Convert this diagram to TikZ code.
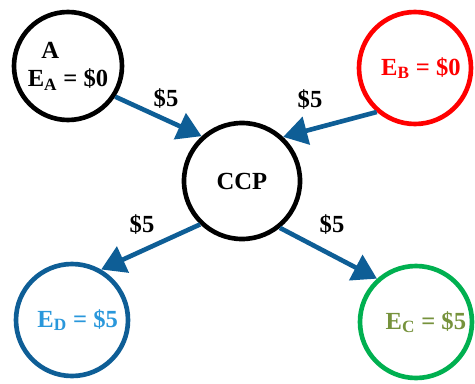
\documentclass[tikz,border=0pt]{standalone}
\usepackage{fontspec}
\setmainfont{Liberation Serif}
\usetikzlibrary{arrows.meta,positioning}
\definecolor{flowblue}{RGB}{14,94,150}
\definecolor{dtext}{RGB}{41,151,219}
\definecolor{cgreen}{RGB}{0,176,80}
\definecolor{ctext}{RGB}{118,146,60}

\begin{document}
\begin{tikzpicture}[>={Triangle[length=6mm,width=7mm]},font=\bfseries\fontsize{17.5}{20}\selectfont]
\tikzstyle{ent}=[circle,draw,line width=3.3pt,inner sep=0pt,minimum size=2.8cm,align=center]
\tikzstyle{pay}=[->,draw=flowblue,fill=flowblue,line width=3.3pt]
\useasboundingbox (0,0) rectangle (11.875,9.575);
\node[ent,minimum size=2.7cm,align=left] (A) at (1.7,7.925) {\hspace{0.55em}A\\E\textsubscript{A} = \$0};
\node[ent,draw=red,text=red] (B) at (10.375,7.875) {\kern8.5pt E\textsubscript{B} = \$0};
\node[ent,minimum size=2.9cm] (CCP) at (6.05,5.05) {CCP};
\node[ent,draw=flowblue,text=dtext] (D) at (1.8,1.575) {\kern8pt E\textsubscript{D} = \$5};
\node[ent,draw=cgreen,text=ctext] (C) at (10.4,1.525) {\kern14pt E\textsubscript{C} = \$5};
% payments
\draw[pay] (A.-33) -- (CCP.132);
\draw[pay] (B.229) -- (CCP.47);
\draw[pay] (CCP.226) -- (D.60);
\draw[pay] (CCP.309) -- (C.132);
\node (pA) at (4.15,7.1) {\$5};
\node (pB) at (7.75,7.075) {\$5};
\node (pD) at (3.55,3.95) {\$5};
\node (pC) at (8.3,3.95) {\$5};
\end{tikzpicture}
\end{document}
